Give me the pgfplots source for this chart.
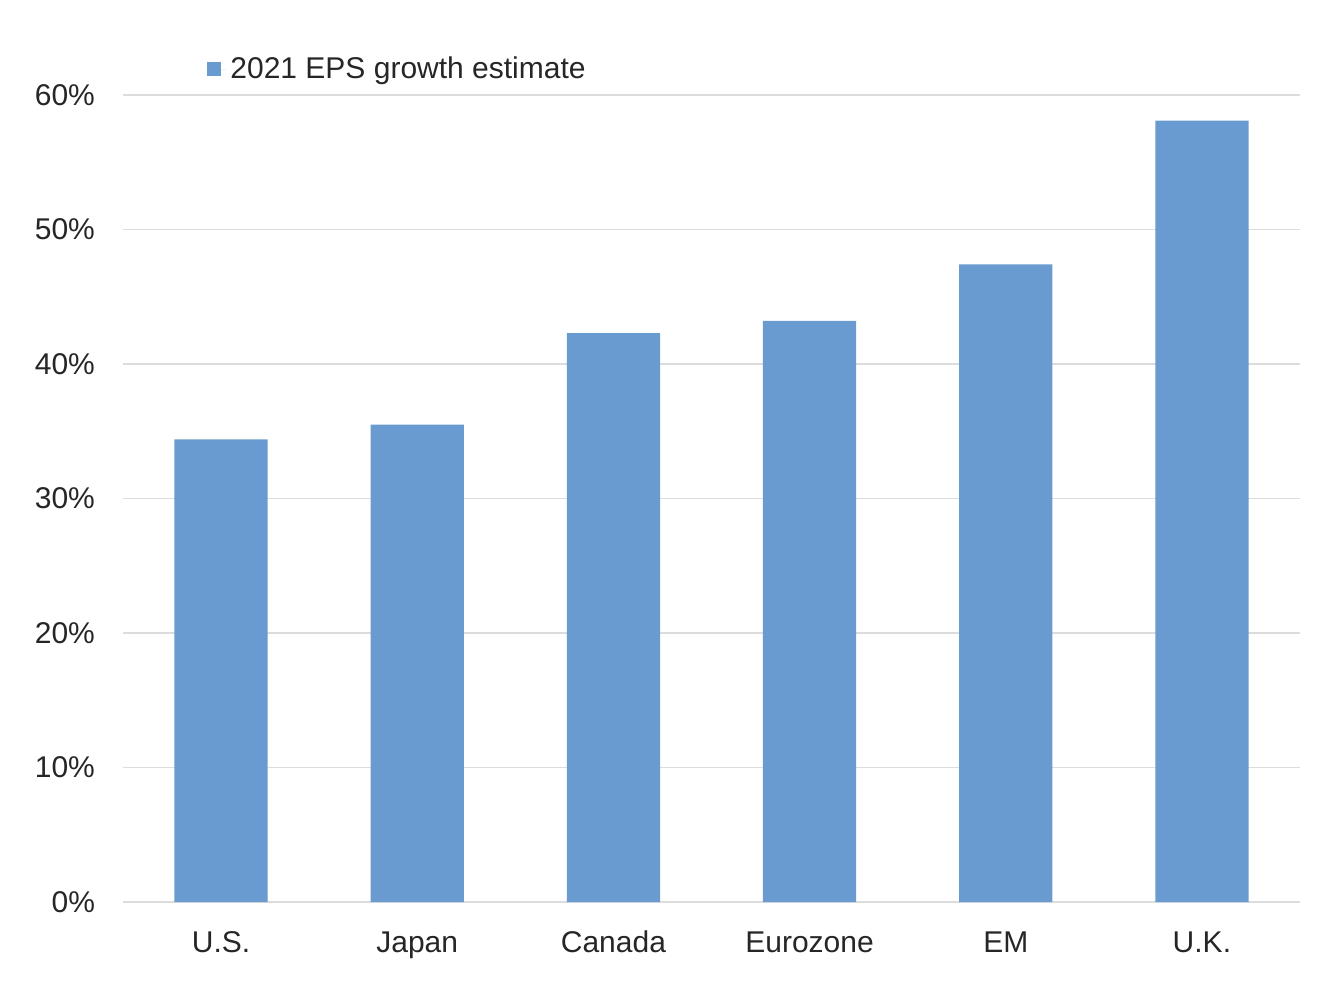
\documentclass[border=0pt]{standalone}
\usepackage{pgfplots}
\pgfplotsset{compat=1.18}
\usepackage{fontspec}
\setmainfont{Liberation Sans}
\definecolor{barblue}{HTML}{6A9BD0}
\definecolor{gridgray}{HTML}{DCDCDC}
\definecolor{txt}{HTML}{262626}
\begin{document}
\begin{tikzpicture}
\begin{axis}[
  name=ax,
  scale only axis,
  width=588.5pt, height=403.5pt,
  xmin=-0.5, xmax=5.5,
  ymin=0, ymax=60,
  ytick={0,10,...,60},
  yticklabel={\pgfmathprintnumber{\tick}\%},
  xtick={0,1,2,3,4,5},
  xticklabels={U.S.,Japan,Canada,Eurozone,EM,U.K.},
  ymajorgrids,
  grid style={gridgray, line width=0.8pt},
  axis x line*=bottom,
  axis y line*=left,
  y axis line style={draw=none},
  x axis line style={draw=gridgray, line width=1pt, -},
  major tick length=0pt,
  ticklabel style={font=\fontsize{15pt}{18pt}\selectfont, text=txt},
  /pgf/number format/assume math mode=true,
  yticklabel style={anchor=east, xshift=-10.5pt},
  xticklabel style={anchor=base, yshift=-25pt},
  ybar, bar width=0.475,
  legend style={draw=none, fill=none, at={(0.0714,1.032)}, anchor=west,
    font=\fontsize{15pt}{18pt}\selectfont, text=txt, inner xsep=0pt, inner ysep=0pt},
  legend image code/.code={\fill[#1] (0pt,-3.5pt) rectangle (7pt,3.5pt); \path (0pt,0pt) -- (9.5pt,0pt);},
  clip=false,
]
\addplot[fill=barblue, draw=none] coordinates {
  (0,34.4) (1,35.5) (2,42.3) (3,43.2) (4,47.4) (5,58.1)
};
\addlegendentry{2021 EPS growth estimate}
\end{axis}
\path[use as bounding box] (ax.south west) ++(-61.5pt,-45pt) rectangle ++(671pt,496pt);
\end{tikzpicture}
\end{document}
